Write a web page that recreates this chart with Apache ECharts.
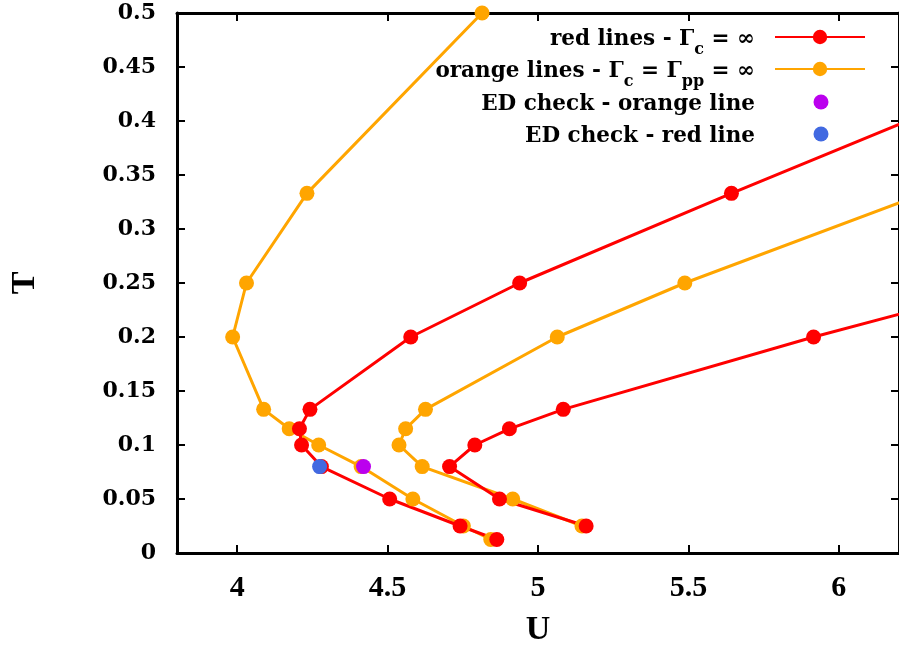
<!DOCTYPE html>
<html><head><meta charset="utf-8">
<script src="https://cdn.jsdelivr.net/npm/echarts@6/dist/echarts.min.js"></script>
<style>html,body{margin:0;padding:0;background:#fff}#chart{width:899px;height:653px}</style>
</head><body><div id="chart"></div>
<script>
// Tick values
const xTicks = [4, 4.5, 5, 5.5, 6];
const yTicks = [0, 0.05, 0.1, 0.15, 0.2, 0.25, 0.3, 0.35, 0.4, 0.45, 0.5];

// Orange line A (leftmost)
const orangeA_U = [4.814, 4.232, 4.031, 3.985, 4.088, 4.173, 4.271, 4.412, 4.584, 4.752, 4.843];
const orangeA_T = [0.5, 0.333, 0.25, 0.2, 0.133, 0.115, 0.1, 0.08, 0.05, 0.025, 0.0125];
// Red line A
const redA_U = [7.10, 5.643, 4.939, 4.577, 4.242, 4.207, 4.214, 4.28, 4.507, 4.741, 4.863];
const redA_T = [0.5, 0.333, 0.25, 0.2, 0.133, 0.115, 0.1, 0.08, 0.05, 0.025, 0.0125];
// Orange line B
const orangeB_U = [6.285, 5.488, 5.064, 4.626, 4.56, 4.538, 4.615, 4.916, 5.146];
const orangeB_T = [0.333, 0.25, 0.2, 0.133, 0.115, 0.1, 0.08, 0.05, 0.025];
// Red line B
const redB_U = [6.59, 5.916, 5.084, 4.905, 4.79, 4.706, 4.872, 5.16];
const redB_T = [0.25, 0.2, 0.133, 0.115, 0.1, 0.08, 0.05, 0.025];
// ED checks
const edOrange_U = [4.42];
const edOrange_T = [0.08];
const edRed_U = [4.274];
const edRed_T = [0.08];

const zip = (u, t) => u.map((v, i) => [v, t[i]]);

// Legend entries (order, label)
const legendNames = ['red', 'orange', 'edOrange', 'edRed'];
const legendLabels = {
  red: '{n|red lines - Γ}{s|c}{n| = ∞}',
  orange: '{n|orange lines - Γ}{s|c}{n| = Γ}{s|pp}{n| = ∞}',
  edOrange: '{n|ED check - orange line}',
  edRed: '{n|ED check - red line}'
};
const legendRowY = [37, 69, 102, 134];

const legendFont = 'DejaVu Serif';
const LH = 38;
const legendRich = {
  n: {fontFamily: legendFont, fontWeight: 'bold', fontSize: 21.5, lineHeight: LH, verticalAlign: 'middle', fill: '#000'},
  s: {fontFamily: legendFont, fontWeight: 'bold', fontSize: 16, lineHeight: LH, verticalAlign: 'bottom', fill: '#000'}
};

const chart = echarts.init(document.getElementById('chart'), null, {renderer: 'canvas'});

const axisLineStyle = {color: '#000', width: 3};
const lineSeries = (name, data, color) => ({
  name, type: 'line', data, symbol: 'circle', symbolSize: 15, showAllSymbol: true,
  lineStyle: {color, width: 3}, itemStyle: {color, opacity: 1}, clip: true, animation: false, z: 2,
  emphasis: {disabled: true}
});

const isLine = nm => nm === 'red' || nm === 'orange';

chart.setOption({
  animation: false,
  backgroundColor: '#fff',
  grid: {left: 175, right: -5, top: 13, bottom: 100, containLabel: false},
  xAxis: [{
    type: 'value', min: 3.8, max: 6.2, position: 'bottom',
    name: 'U', nameLocation: 'middle', nameGap: 60,
    nameTextStyle: {fontFamily: 'Liberation Serif', fontWeight: 'bold', fontSize: 34, color: '#000'},
    axisLine: {show: true, onZero: false, lineStyle: axisLineStyle},
    axisTick: {show: true, inside: true, length: 8, lineStyle: {color: '#000', width: 2}, customValues: xTicks},
    axisLabel: {show: true, margin: 20, customValues: xTicks, fontFamily: 'Liberation Serif', fontWeight: 'bold', fontSize: 30, color: '#000'},
    splitLine: {show: false}
  }, {
    type: 'value', min: 3.8, max: 6.2, position: 'top',
    axisLine: {show: true, onZero: false, lineStyle: axisLineStyle},
    axisTick: {show: true, inside: true, length: 8, lineStyle: {color: '#000', width: 2}, customValues: xTicks},
    axisLabel: {show: false},
    splitLine: {show: false}
  }],
  yAxis: [{
    type: 'value', min: 0, max: 0.5, interval: 0.05, position: 'left',
    name: 'T', nameLocation: 'middle', nameGap: 135, nameRotate: 90,
    nameTextStyle: {fontFamily: 'Liberation Serif', fontWeight: 'bold', fontSize: 34, color: '#000'},
    axisLine: {show: true, onZero: false, lineStyle: axisLineStyle},
    axisTick: {show: true, inside: true, length: 8, lineStyle: {color: '#000', width: 2}},
    axisLabel: {show: true, margin: 21, fontFamily: 'DejaVu Serif', fontWeight: 'bold', fontSize: 22, color: '#000'},
    splitLine: {show: false}
  }, {
    type: 'value', min: 0, max: 0.5, interval: 0.05, position: 'right',
    axisLine: {show: true, onZero: false, lineStyle: axisLineStyle},
    axisTick: {show: true, inside: true, length: 8, lineStyle: {color: '#000', width: 2}},
    axisLabel: {show: false},
    splitLine: {show: false}
  }],
  // Legend icons (one legend per row so each row sits exactly), labels drawn as text below
  legend: legendNames.map((nm, i) => ({
    orient: 'vertical', align: 'right', padding: 0,
    right: isLine(nm) ? 33 : 70.5,
    top: legendRowY[i] - (isLine(nm) ? 9 : 7.5),
    itemWidth: isLine(nm) ? 90 : 15,
    itemHeight: isLine(nm) ? 18 : 15,
    data: [nm],
    formatter: () => '',
    selectedMode: false,
    textStyle: {fontSize: 8, color: '#000'}
  })),
  graphic: legendNames.map((nm, i) => ({
    type: 'text', silent: true, z: 10,
    x: 755, y: legendRowY[i] + 2,
    style: {text: legendLabels[nm], align: 'right', verticalAlign: 'middle', rich: legendRich,
            font: 'bold 21.5px "DejaVu Serif"', fill: '#000'}
  })),
  series: [
    lineSeries('orange', zip(orangeA_U, orangeA_T), '#ffa500'),
    lineSeries('orange', zip(orangeB_U, orangeB_T), '#ffa500'),
    lineSeries('red', zip(redA_U, redA_T), '#ff0000'),
    lineSeries('red', zip(redB_U, redB_T), '#ff0000'),
    {name: 'edOrange', type: 'scatter', data: zip(edOrange_U, edOrange_T), symbol: 'circle', symbolSize: 15, z: 5,
     itemStyle: {color: '#bb00ee', opacity: 1}, emphasis: {disabled: true}},
    {name: 'edRed', type: 'scatter', data: zip(edRed_U, edRed_T), symbol: 'circle', symbolSize: 15, z: 5,
     itemStyle: {color: '#4169e1', opacity: 1}, emphasis: {disabled: true}}
  ]
});
</script>
</body></html>
